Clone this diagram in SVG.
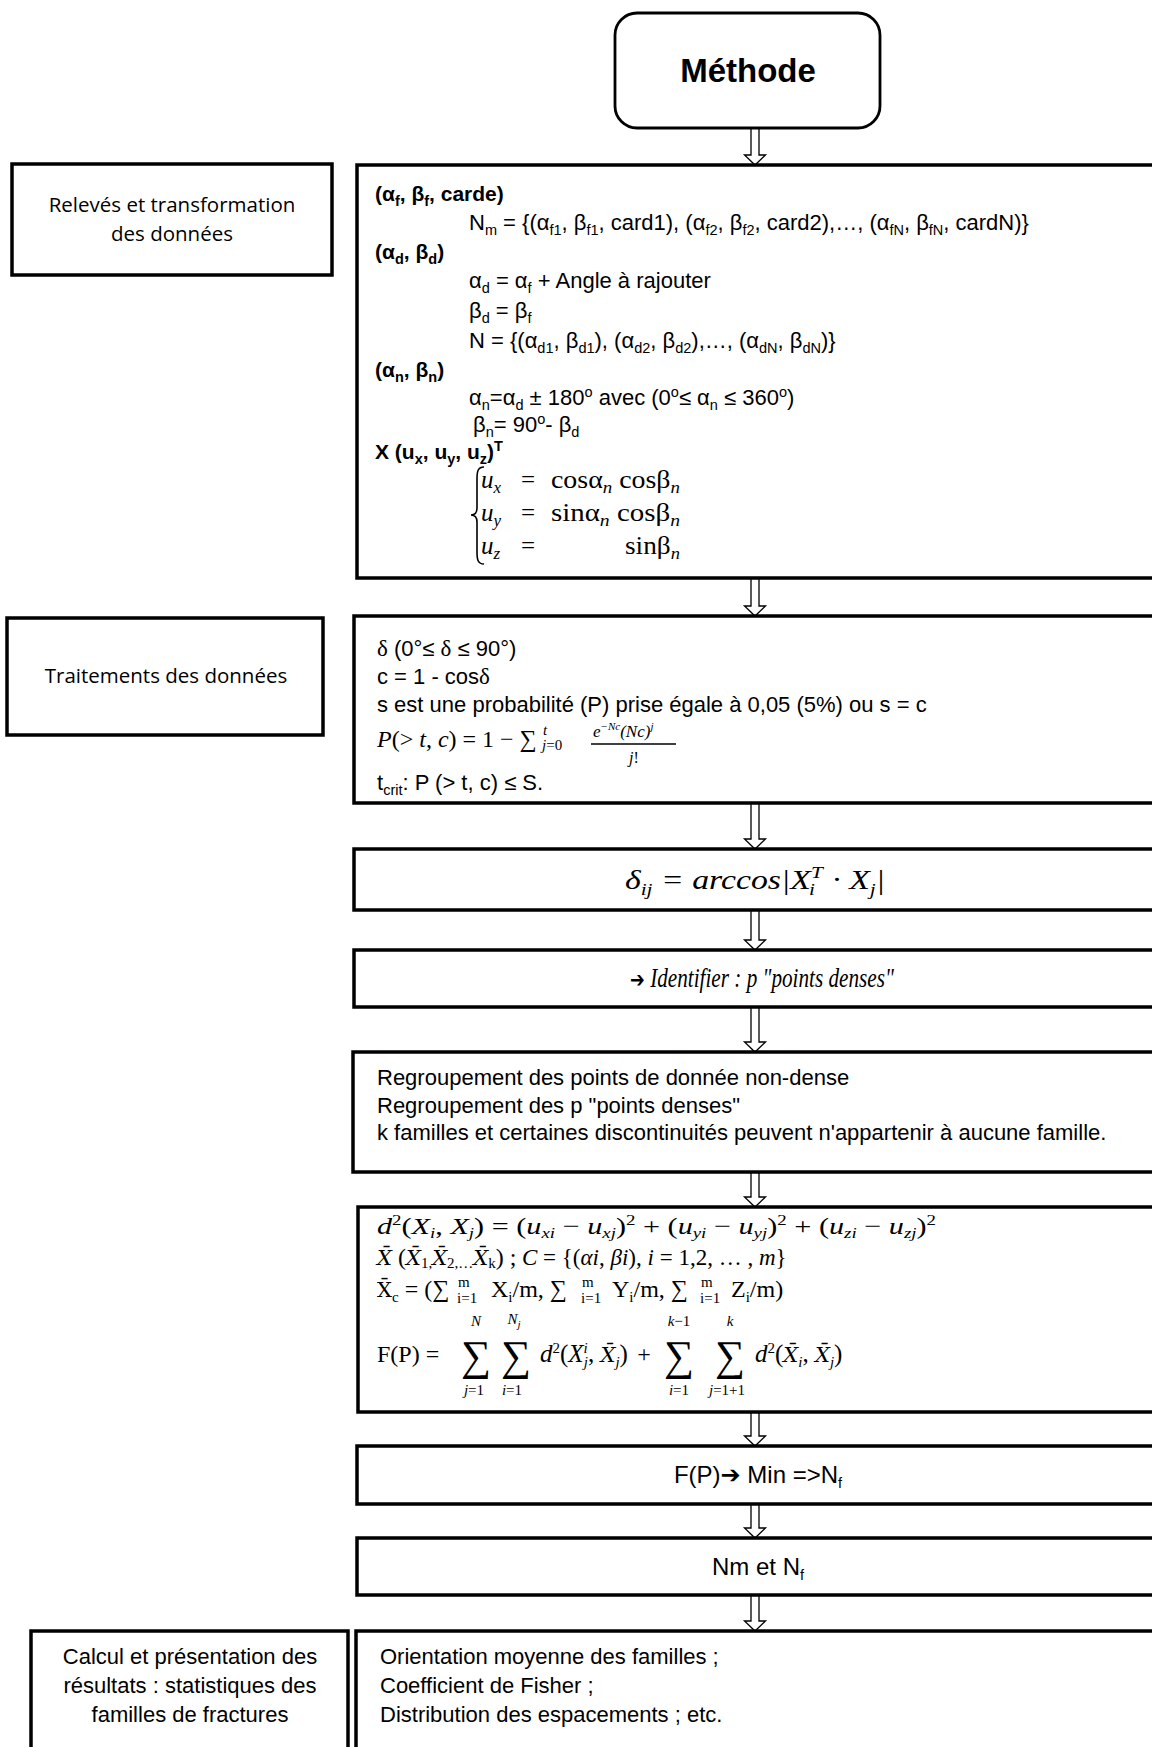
<svg xmlns="http://www.w3.org/2000/svg" width="1152" height="1747" viewBox="0 0 1152 1747">
<style>
.box{fill:#fff;stroke:#000;stroke-width:3.5}
.arr{fill:#fff;stroke:#000;stroke-width:1.3}
text{fill:#000}
.t{font-family:"Liberation Sans",Arial,sans-serif;font-size:22px}
.os{font-family:"Open Sans","Liberation Sans",sans-serif;font-size:20.5px}
.b{font-weight:bold;font-size:21px}
.m{font-family:"Liberation Serif","Times New Roman",serif;font-size:24px}
.i{font-style:italic}
.s{font-size:14.5px}
.ms{font-size:15px}
.sym{font-family:"DejaVu Sans",sans-serif;font-style:normal;font-weight:bold}
.xb{font-family:"DejaVu Serif",serif;font-size:21px}
.big{font-family:"Liberation Serif","Times New Roman",serif;font-size:42px}
</style>
<rect width="1152" height="1747" fill="#fff"/>

<g id="connectors">
<polygon class="arr" points="751,128 759,128 759,155 765.5,155 755,165 744.5,155 751,155"/>
<polygon class="arr" points="751,578 759,578 759,606 765.5,606 755,616 744.5,606 751,606"/>
<polygon class="arr" points="751,803 759,803 759,839 765.5,839 755,849 744.5,839 751,839"/>
<polygon class="arr" points="751,910 759,910 759,940 765.5,940 755,950 744.5,940 751,940"/>
<polygon class="arr" points="751,1007 759,1007 759,1042 765.5,1042 755,1052 744.5,1042 751,1042"/>
<polygon class="arr" points="751,1172 759,1172 759,1197 765.5,1197 755,1207 744.5,1197 751,1197"/>
<polygon class="arr" points="751,1412 759,1412 759,1436 765.5,1436 755,1446 744.5,1436 751,1436"/>
<polygon class="arr" points="751,1504 759,1504 759,1528 765.5,1528 755,1538 744.5,1528 751,1528"/>
<polygon class="arr" points="751,1595 759,1595 759,1621 765.5,1621 755,1631 744.5,1621 751,1621"/>
</g>

<g id="node-methode">
<rect class="box" x="615" y="13" width="265" height="115" rx="22" ry="22" style="stroke-width:2.8"/>
<text class="t" x="748" y="82" text-anchor="middle" style="font-size:33px;font-weight:bold">Méthode</text>
</g>

<g id="node-label-releves">
<rect class="box" x="12" y="164" width="320" height="111"/>
<text class="os" x="172" y="212" text-anchor="middle">Relevés et transformation</text>
<text class="os" x="172" y="241" text-anchor="middle">des données</text>
</g>

<g id="node-releves">
<rect class="box" x="357" y="165" width="820" height="413"/>
<text class="t b" x="375" y="201">(α<tspan class="s" dy="5">f</tspan><tspan dy="-5">, β</tspan><tspan class="s" dy="5">f</tspan><tspan dy="-5">, carde)</tspan></text>
<text class="t" x="469" y="230">N<tspan class="s" dy="5">m</tspan><tspan dy="-5"> = {(α</tspan><tspan class="s" dy="5">f1</tspan><tspan dy="-5">, β</tspan><tspan class="s" dy="5">f1</tspan><tspan dy="-5">, card1), (α</tspan><tspan class="s" dy="5">f2</tspan><tspan dy="-5">, β</tspan><tspan class="s" dy="5">f2</tspan><tspan dy="-5">, card2),…, (α</tspan><tspan class="s" dy="5">fN</tspan><tspan dy="-5">, β</tspan><tspan class="s" dy="5">fN</tspan><tspan dy="-5">, cardN)}</tspan></text>
<text class="t b" x="375" y="259">(α<tspan class="s" dy="5">d</tspan><tspan dy="-5">, β</tspan><tspan class="s" dy="5">d</tspan><tspan dy="-5">)</tspan></text>
<text class="t" x="469" y="288">α<tspan class="s" dy="5">d</tspan><tspan dy="-5"> = α</tspan><tspan class="s" dy="5">f</tspan><tspan dy="-5"> + Angle à rajouter</tspan></text>
<text class="t" x="469" y="318">β<tspan class="s" dy="5">d</tspan><tspan dy="-5"> = β</tspan><tspan class="s" dy="5">f</tspan></text>
<text class="t" x="469" y="348">N = {(α<tspan class="s" dy="5">d1</tspan><tspan dy="-5">, β</tspan><tspan class="s" dy="5">d1</tspan><tspan dy="-5">), (α</tspan><tspan class="s" dy="5">d2</tspan><tspan dy="-5">, β</tspan><tspan class="s" dy="5">d2</tspan><tspan dy="-5">),…, (α</tspan><tspan class="s" dy="5">dN</tspan><tspan dy="-5">, β</tspan><tspan class="s" dy="5">dN</tspan><tspan dy="-5">)}</tspan></text>
<text class="t b" x="375" y="377">(α<tspan class="s" dy="5">n</tspan><tspan dy="-5">, β</tspan><tspan class="s" dy="5">n</tspan><tspan dy="-5">)</tspan></text>
<text class="t" x="469" y="405">α<tspan class="s" dy="5">n</tspan><tspan dy="-5">=α</tspan><tspan class="s" dy="5">d</tspan><tspan dy="-5"> ± 180</tspan><tspan class="s" dy="-8">o</tspan><tspan dy="8"> avec (0</tspan><tspan class="s" dy="-8">o</tspan><tspan dy="8">≤ α</tspan><tspan class="s" dy="5">n</tspan><tspan dy="-5"> ≤ 360</tspan><tspan class="s" dy="-8">o</tspan><tspan dy="8">)</tspan></text>
<text class="t" x="473" y="432">β<tspan class="s" dy="5">n</tspan><tspan dy="-5">= 90</tspan><tspan class="s" dy="-8">o</tspan><tspan dy="8">- β</tspan><tspan class="s" dy="5">d</tspan></text>
<text class="t b" x="375" y="459">X (u<tspan class="s" dy="5">x</tspan><tspan dy="-5">, u</tspan><tspan class="s" dy="5">y</tspan><tspan dy="-5">, u</tspan><tspan class="s" dy="5">z</tspan><tspan dy="-5">)</tspan><tspan class="s" dy="-8">T</tspan></text>
<path d="M484,467 C478,467 477,471 477,479 L477,508 C477,513 475,515 471,515 C475,515 477,517 477,522 L477,552 C477,560 478,564 484,564" fill="none" stroke="#000" stroke-width="1.6"/>
<text class="m" x="481" y="488" style="font-size:25px"><tspan class="i">u</tspan><tspan class="i" style="font-size:17px" dy="5">x</tspan></text>
<text class="m" x="521" y="488" style="font-size:25px">=</text>
<text class="m" x="551" y="488" style="font-size:25px" textLength="129" lengthAdjust="spacingAndGlyphs">cosα<tspan class="i" style="font-size:17px" dy="5">n</tspan><tspan dy="-5"> cosβ</tspan><tspan class="i" style="font-size:17px" dy="5">n</tspan></text>
<text class="m" x="481" y="521" style="font-size:25px"><tspan class="i">u</tspan><tspan class="i" style="font-size:17px" dy="5">y</tspan></text>
<text class="m" x="521" y="521" style="font-size:25px">=</text>
<text class="m" x="551" y="521" style="font-size:25px" textLength="129" lengthAdjust="spacingAndGlyphs">sinα<tspan class="i" style="font-size:17px" dy="5">n</tspan><tspan dy="-5"> cosβ</tspan><tspan class="i" style="font-size:17px" dy="5">n</tspan></text>
<text class="m" x="481" y="554" style="font-size:25px"><tspan class="i">u</tspan><tspan class="i" style="font-size:17px" dy="5">z</tspan></text>
<text class="m" x="521" y="554" style="font-size:25px">=</text>
<text class="m" x="625" y="554" style="font-size:25px" textLength="55" lengthAdjust="spacingAndGlyphs">sinβ<tspan class="i" style="font-size:17px" dy="5">n</tspan></text>
</g>

<g id="node-label-traitements">
<rect class="box" x="7" y="618" width="316" height="117"/>
<text class="os" x="166" y="683" text-anchor="middle">Traitements des données</text>
</g>

<g id="node-traitements">
<rect class="box" x="354" y="616" width="820" height="187"/>
<text class="t" x="377" y="656"><tspan class="m" style="font-size:23px">δ</tspan> (0°≤ <tspan class="m" style="font-size:23px">δ</tspan> ≤ 90°)</text>
<text class="t" x="377" y="684">c = 1 - cos<tspan class="m" style="font-size:23px">δ</tspan></text>
<text class="t" x="377" y="712">s est une probabilité (P) prise égale à 0,05 (5%) ou s = c</text>
<text class="m" x="377" y="747"><tspan class="i">P</tspan>(&gt; <tspan class="i">t</tspan>, <tspan class="i">c</tspan>) = 1 − ∑</text>
<text class="m i ms" x="543" y="735">t</text>
<text class="m i ms" x="542" y="750">j<tspan style="font-style:normal">=0</tspan></text>
<text class="m i" x="593" y="737" style="font-size:17px">e<tspan style="font-size:11px" dy="-7">−Nc</tspan><tspan dy="7">(Nc)</tspan><tspan style="font-size:11px" dy="-7">j</tspan></text>
<line x1="591" y1="744" x2="676" y2="744" stroke="#000" stroke-width="1.4"/>
<text class="m i" x="634" y="763" text-anchor="middle" style="font-size:16px">j<tspan style="font-style:normal">!</tspan></text>
<text class="t" x="377" y="790">t<tspan class="s" dy="5">crit</tspan><tspan dy="-5">: P (&gt; t, c) ≤  S.</tspan></text>
</g>

<g id="node-delta">
<rect class="box" x="354" y="849" width="820" height="61"/>
<text class="m i" x="755" y="889" text-anchor="middle" style="font-size:27px" textLength="260" lengthAdjust="spacingAndGlyphs">δ<tspan style="font-size:17px" dy="6">ij</tspan><tspan dy="-6"> = arccos|X</tspan><tspan style="font-size:17px" dy="-11">T</tspan><tspan style="font-size:17px" dx="-10" dy="17">i</tspan><tspan dx="7" dy="-6"> · X</tspan><tspan style="font-size:17px" dy="6">j</tspan><tspan dy="-6">|</tspan></text>
</g>

<g id="node-identifier">
<rect class="box" x="354" y="950" width="820" height="57"/>
<text class="m i" transform="translate(762,987) scale(0.8,1)" x="0" y="0" text-anchor="middle" style="font-size:26.5px"><tspan class="sym" style="font-size:22px">➔</tspan> Identifier : p "points denses"</text>
</g>

<g id="node-regroupement">
<rect class="box" x="353" y="1052" width="820" height="120"/>
<text class="t" x="377" y="1085">Regroupement des points de donnée non-dense</text>
<text class="t" x="377" y="1113">Regroupement des p "points denses"</text>
<text class="t" x="377" y="1140">k familles et certaines discontinuités peuvent n'appartenir à aucune famille.</text>
</g>

<g id="node-fp">
<rect class="box" x="358" y="1207" width="820" height="205"/>
<text class="m" x="377" y="1234" textLength="559" lengthAdjust="spacingAndGlyphs"><tspan class="i">d</tspan><tspan class="ms" dy="-9">2</tspan><tspan dy="9">(</tspan><tspan class="i">X</tspan><tspan class="i ms" dy="4">i</tspan><tspan dy="-4">, </tspan><tspan class="i">X</tspan><tspan class="i ms" dy="4">j</tspan><tspan dy="-4">) = (</tspan><tspan class="i">u</tspan><tspan class="i ms" dy="4">xi</tspan><tspan dy="-4"> − </tspan><tspan class="i">u</tspan><tspan class="i ms" dy="4">xj</tspan><tspan dy="-4">)</tspan><tspan class="ms" dy="-9">2</tspan><tspan dy="9"> + (</tspan><tspan class="i">u</tspan><tspan class="i ms" dy="4">yi</tspan><tspan dy="-4"> − </tspan><tspan class="i">u</tspan><tspan class="i ms" dy="4">yj</tspan><tspan dy="-4">)</tspan><tspan class="ms" dy="-9">2</tspan><tspan dy="9"> + (</tspan><tspan class="i">u</tspan><tspan class="i ms" dy="4">zi</tspan><tspan dy="-4"> − </tspan><tspan class="i">u</tspan><tspan class="i ms" dy="4">zj</tspan><tspan dy="-4">)</tspan><tspan class="ms" dy="-9">2</tspan></text>
<text class="m" x="377" y="1265"><tspan class="i xb">X&#x304;</tspan> (<tspan class="i xb">X&#x304;</tspan><tspan class="ms" dy="3">1,</tspan><tspan class="i xb" dy="-3">X&#x304;</tspan><tspan class="ms" dy="3">2,…</tspan><tspan class="i xb" dy="-3">X&#x304;</tspan><tspan class="ms" dy="3">k</tspan><tspan dy="-3">) ;</tspan></text>
<text class="m" x="522" y="1265" style="font-size:23px"><tspan class="i">C</tspan> = {(<tspan class="i">αi</tspan>, <tspan class="i">βi</tspan>), <tspan class="i">i</tspan> = 1,2, … , <tspan class="i">m</tspan>}</text>
<text class="m" x="377" y="1297"><tspan class="xb">X&#x304;</tspan><tspan class="ms" dy="5">c</tspan><tspan dy="-5"> = (∑</tspan></text>
<text class="m ms" x="458" y="1287">m</text>
<text class="m ms" x="457" y="1303">i=1</text>
<text class="m" x="491" y="1297">X<tspan class="ms" dy="5">i</tspan><tspan dy="-5">/m, ∑</tspan></text>
<text class="m ms" x="582" y="1287">m</text>
<text class="m ms" x="581" y="1303">i=1</text>
<text class="m" x="612" y="1297">Y<tspan class="ms" dy="5">i</tspan><tspan dy="-5">/m, ∑</tspan></text>
<text class="m ms" x="701" y="1287">m</text>
<text class="m ms" x="700" y="1303">i=1</text>
<text class="m" x="731" y="1297">Z<tspan class="ms" dy="5">i</tspan><tspan dy="-5">/m)</tspan></text>
<text class="m" x="377" y="1362">F(P) =</text>
<text class="big" x="476" y="1370" text-anchor="middle">∑</text>
<text class="big" x="516" y="1370" text-anchor="middle">∑</text>
<text class="big" x="679" y="1370" text-anchor="middle">∑</text>
<text class="big" x="730" y="1370" text-anchor="middle">∑</text>
<text class="m i ms" x="476" y="1326" text-anchor="middle">N</text>
<text class="m i ms" x="514" y="1324" text-anchor="middle">N<tspan style="font-size:11px" dy="4">j</tspan></text>
<text class="m i ms" x="679" y="1326" text-anchor="middle">k<tspan style="font-style:normal">−1</tspan></text>
<text class="m i ms" x="730" y="1326" text-anchor="middle">k</text>
<text class="m i ms" x="474" y="1395" text-anchor="middle">j<tspan style="font-style:normal">=1</tspan></text>
<text class="m i ms" x="512" y="1395" text-anchor="middle">i<tspan style="font-style:normal">=1</tspan></text>
<text class="m i ms" x="679" y="1395" text-anchor="middle">i<tspan style="font-style:normal">=1</tspan></text>
<text class="m i ms" x="727" y="1395" text-anchor="middle">j<tspan style="font-style:normal">=1+1</tspan></text>
<text class="m" x="540" y="1362" style="font-size:25px"><tspan class="i">d</tspan><tspan class="ms" dy="-9">2</tspan><tspan dy="9">(</tspan><tspan class="i">X</tspan><tspan class="i ms" dy="-9">i</tspan><tspan class="i ms" dx="-4" dy="14">j</tspan><tspan dy="-5">, </tspan><tspan class="i xb">X&#x304;</tspan><tspan class="i ms" dy="5">j</tspan><tspan dy="-5">)</tspan></text>
<text class="m" x="644" y="1362" text-anchor="middle">+</text>
<text class="m" x="755" y="1362" style="font-size:25px"><tspan class="i">d</tspan><tspan class="ms" dy="-9">2</tspan><tspan dy="9">(</tspan><tspan class="i xb">X&#x304;</tspan><tspan class="i ms" dy="5">i</tspan><tspan dy="-5">, </tspan><tspan class="i xb">X&#x304;</tspan><tspan class="i ms" dy="5">j</tspan><tspan dy="-5">)</tspan></text>
</g>

<g id="node-min">
<rect class="box" x="357" y="1446" width="820" height="58"/>
<text class="t" x="758" y="1483" text-anchor="middle" style="font-size:24px">F(P)<tspan class="sym" style="font-size:24px">➔</tspan> Min =&gt;N<tspan class="s" dy="5">f</tspan></text>
</g>

<g id="node-nm-nf">
<rect class="box" x="357" y="1538" width="820" height="57"/>
<text class="t" x="758" y="1575" text-anchor="middle" style="font-size:24px">Nm et N<tspan class="s" dy="5">f</tspan></text>
</g>

<g id="node-label-calcul">
<rect class="box" x="31" y="1631" width="317" height="140"/>
<text class="t" x="190" y="1664" text-anchor="middle">Calcul et présentation des</text>
<text class="t" x="190" y="1693" text-anchor="middle">résultats : statistiques des</text>
<text class="t" x="190" y="1722" text-anchor="middle">familles de fractures</text>
</g>

<g id="node-resultats">
<rect class="box" x="356" y="1631" width="820" height="140"/>
<text class="t" x="380" y="1664">Orientation moyenne des familles ;</text>
<text class="t" x="380" y="1693">Coefficient de Fisher ;</text>
<text class="t" x="380" y="1722">Distribution des espacements ; etc.</text>
</g>
</svg>
